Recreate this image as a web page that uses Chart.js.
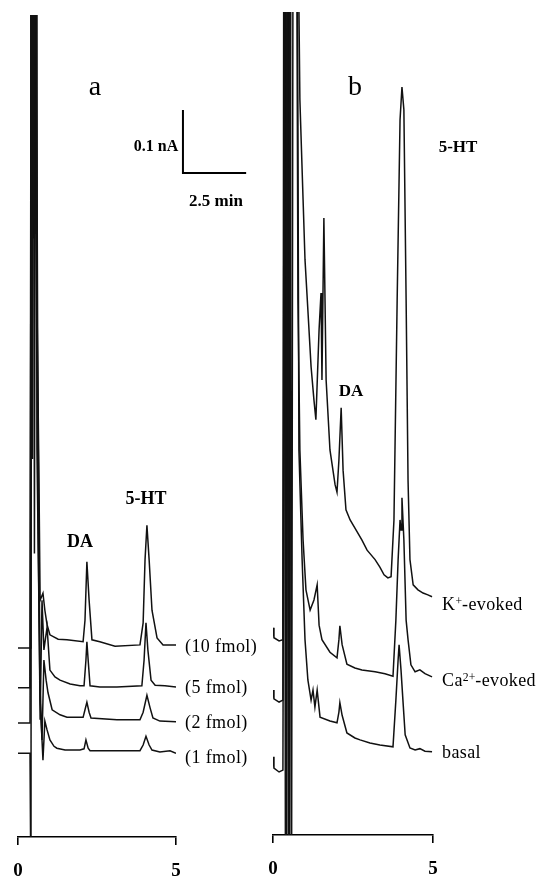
<!DOCTYPE html>
<html>
<head>
<meta charset="utf-8">
<script src="https://cdn.jsdelivr.net/npm/chart.js@4.4.1/dist/chart.umd.min.js"></script>
<style>
  html, body { margin: 0; padding: 0; background: #fff; }
  #wrap { position: relative; width: 547px; height: 878px; overflow: hidden; background: #fff; }
  .pane { position: absolute; top: 0; height: 878px; }
  #pa { left: 0; width: 265px; }
  #pb { left: 255px; width: 292px; }
  .lbl { position: absolute; font-family: "Liberation Serif", "DejaVu Serif", serif; color: #000; white-space: nowrap; line-height: 1; }
  .c { transform: translate(-50%, -50%); }
  .l { transform: translate(0, -50%); }
  .tr { font-size: 18px; letter-spacing: 0.4px; }
  sup { font-size: 65%; vertical-align: 0; position: relative; top: -0.45em; letter-spacing: 0; }
</style>
</head>
<body>
<div id="wrap">
  <div class="pane" id="pa"><canvas id="ca" width="265" height="878"></canvas></div>
  <div class="pane" id="pb"><canvas id="cb" width="292" height="878"></canvas></div>

  <div class="lbl c" style="left:95px;top:86px;font-size:28px;">a</div>
  <div class="lbl c" style="left:156px;top:146px;font-size:16px;font-weight:bold;">0.1 nA</div>
  <div class="lbl c" style="left:216px;top:200px;font-size:17px;font-weight:bold;">2.5 min</div>
  <div class="lbl c" style="left:80px;top:541px;font-size:18px;font-weight:bold;">DA</div>
  <div class="lbl c" style="left:146px;top:498px;font-size:18px;font-weight:bold;">5-HT</div>
  <div class="lbl l tr" style="left:185px;top:646px;">(10 fmol)</div>
  <div class="lbl l tr" style="left:185px;top:687px;">(5 fmol)</div>
  <div class="lbl l tr" style="left:185px;top:722px;">(2 fmol)</div>
  <div class="lbl l tr" style="left:185px;top:757px;">(1 fmol)</div>

  <div class="lbl c" style="left:355px;top:86px;font-size:28px;">b</div>
  <div class="lbl c" style="left:458px;top:146px;font-size:17px;font-weight:bold;">5-HT</div>
  <div class="lbl c" style="left:351px;top:390px;font-size:17px;font-weight:bold;">DA</div>
  <div class="lbl l tr" style="left:442px;top:604px;">K<sup>+</sup>-evoked</div>
  <div class="lbl l tr" style="left:442px;top:680px;">Ca<sup>2+</sup>-evoked</div>
  <div class="lbl l tr" style="left:442px;top:752px;">basal</div>
</div>

<script>
// ---------- Panel a: standards (time in min, current in nA, traces offset) ----------
const tA10 = [0,0.38,0.41,0.44,0.47,0.50,0.53,0.57,0.60,0.66,0.70,0.79,0.85,0.92,1.01,1.27,1.55,2.06,2.12,2.18,2.25,2.34,2.59,3.07,3.86,3.96,4.02,4.08,4.15,4.24,4.40,4.59,4.81,5.00];
const yA10 = [0.300,0.300,1.6,1.05,1.6,0.95,1.6,1.6,0.852,0.583,0.376,0.387,0.360,0.337,0.321,0.314,0.313,0.310,0.344,0.437,0.376,0.313,0.310,0.303,0.305,0.340,0.440,0.495,0.440,0.360,0.316,0.305,0.305,0.305];

const tA5 = [0,0.38,0.42,0.45,0.48,0.51,0.55,0.59,0.63,0.70,0.76,0.82,0.92,1.01,1.17,1.33,1.65,1.96,2.09,2.15,2.18,2.22,2.28,2.59,3.13,3.92,3.99,4.05,4.11,4.21,4.34,4.65,5.00];
const yA5 = [0.237,0.237,1.6,0.75,1.6,1.15,1.6,1.011,0.535,0.186,0.376,0.297,0.333,0.265,0.254,0.249,0.243,0.240,0.240,0.281,0.310,0.281,0.240,0.238,0.238,0.240,0.281,0.340,0.297,0.249,0.241,0.240,0.238];

const tA2 = [0,0.38,0.43,0.46,0.49,0.52,0.56,0.63,0.70,0.76,0.82,0.89,0.95,1.08,1.33,1.55,2.06,2.12,2.18,2.25,2.31,3.13,3.86,3.96,4.08,4.18,4.27,4.49,5.00];
const yA2 = [0.181,0.181,1.6,0.6,1.6,1.25,1.6,0.694,0.233,0.154,0.281,0.249,0.229,0.202,0.194,0.190,0.190,0.202,0.214,0.198,0.189,0.186,0.186,0.198,0.225,0.205,0.189,0.184,0.183];

const tA1 = [0,0.38,0.41,0.43,0.46,0.49,0.52,0.56,0.60,0.70,0.79,0.85,0.92,1.01,1.14,1.23,1.49,1.96,2.09,2.15,2.22,2.28,3.13,3.86,3.96,4.05,4.15,4.24,4.49,4.81,5.00];
const yA1 = [0.133,0.133,-0.1,1.6,1.3,1.6,0.45,1.6,0.614,0.217,0.122,0.184,0.170,0.154,0.144,0.141,0.138,0.138,0.140,0.154,0.141,0.137,0.137,0.137,0.146,0.160,0.146,0.138,0.135,0.137,0.133];

// ---------- Panel b: microdialysates ----------
const tBK = [0,0.03,0.19,0.31,0.34,0.39,0.44,0.48,0.53,0.58,0.63,0.75,0.84,0.94,1.00,1.09,1.19,1.28,1.34,1.44,1.50,1.53,1.56,1.59,1.66,1.78,1.94,2.00,2.06,2.13,2.19,2.28,2.41,2.63,2.78,2.94,3.19,3.34,3.47,3.59,3.69,3.78,3.88,3.97,4.03,4.09,4.16,4.22,4.28,4.38,4.53,4.69,4.84,4.97];
const yBK = [0.329,0.313,0.308,0.310,1.6,-0.1,1.6,-0.1,1.6,-0.1,1.6,1.6,1.167,1.008,0.913,0.833,0.743,0.690,0.659,0.802,0.860,0.722,0.849,0.979,0.722,0.611,0.556,0.544,0.595,0.678,0.579,0.516,0.500,0.481,0.468,0.452,0.437,0.425,0.413,0.408,0.410,0.500,0.849,1.135,1.187,1.151,0.849,0.563,0.437,0.397,0.389,0.384,0.381,0.378];

const tBCa = [0,0.03,0.19,0.31,0.36,0.41,0.45,0.50,0.55,0.59,0.73,0.78,0.84,0.94,1.03,1.16,1.28,1.38,1.44,1.53,1.78,2.00,2.06,2.09,2.16,2.31,2.56,2.78,3.19,3.50,3.75,3.84,3.91,3.97,4.00,4.03,4.09,4.16,4.22,4.31,4.44,4.59,4.75,4.97];
const yBCa = [0.230,0.216,0.211,0.214,1.6,-0.1,1.6,-0.1,1.6,1.6,1.6,0.849,0.611,0.468,0.389,0.357,0.373,0.397,0.333,0.310,0.290,0.281,0.310,0.332,0.302,0.271,0.265,0.262,0.259,0.256,0.252,0.341,0.437,0.500,0.484,0.535,0.468,0.341,0.310,0.270,0.259,0.262,0.256,0.251];

const tBBas = [0,0.03,0.19,0.31,0.38,0.42,0.47,0.52,0.56,0.61,0.75,0.81,0.91,1.00,1.09,1.19,1.25,1.31,1.38,1.47,1.78,2.00,2.06,2.09,2.16,2.31,2.56,2.72,3.03,3.34,3.75,3.84,3.91,3.94,4.00,4.06,4.13,4.28,4.44,4.59,4.75,4.97];
const yBBas = [0.124,0.106,0.100,0.103,1.6,-0.1,1.6,-0.1,1.6,1.6,1.6,0.611,0.437,0.310,0.246,0.214,0.230,0.203,0.230,0.187,0.181,0.178,0.195,0.210,0.190,0.162,0.154,0.151,0.146,0.143,0.140,0.214,0.278,0.302,0.262,0.214,0.159,0.138,0.135,0.137,0.133,0.132];

// axis ticks (min)
const xTicks = [0, 5];
// scale bar (min, nA)
const barT0 = 5.22, barV0 = 1.054, barDT = 2.0, barDV = 0.1;

function pts(t, y) { return t.map((x, i) => ({ x: x, y: y[i] })); }
function ds(t, y) {
  return { data: pts(t, y), borderColor: '#111', borderWidth: 1.5, pointRadius: 0, tension: 0, fill: false };
}

function makeOptions(padL, padR, padT, axisH, yMax) {
  return {
    responsive: false,
    animation: false,
    devicePixelRatio: 1,
    layout: { padding: { left: padL, right: padR, top: padT, bottom: 0 } },
    plugins: { legend: { display: false }, tooltip: { enabled: false } },
    scales: {
      x: {
        type: 'linear', min: 0, max: 5,
        afterFit: s => { s.height = axisH; },
        afterBuildTicks: s => { s.ticks = xTicks.map(v => ({ value: v })); },
        border: { display: true, color: '#000', width: 1.6 },
        grid: { drawOnChartArea: false, drawTicks: true, tickLength: 8, color: '#000', lineWidth: 1.6 },
        ticks: { color: '#000', padding: 9, maxRotation: 0, font: { family: 'Liberation Serif', size: 19, weight: 'bold', lineHeight: 1.8 } }
      },
      y: { type: 'linear', min: 0, max: yMax, display: false }
    }
  };
}

const scaleBarPlugin = {
  id: 'scaleBar',
  afterDraw(chart) {
    const xs = chart.scales.x, ys = chart.scales.y, ctx = chart.ctx;
    const x0 = xs.getPixelForValue(barT0), x1 = xs.getPixelForValue(barT0 + barDT);
    const y0 = ys.getPixelForValue(barV0), y1 = ys.getPixelForValue(barV0 + barDV);
    ctx.save();
    ctx.strokeStyle = '#000'; ctx.lineWidth = 2;
    ctx.beginPath(); ctx.moveTo(x0, y1); ctx.lineTo(x0, y0); ctx.lineTo(x1, y0); ctx.stroke();
    ctx.restore();
  }
};

new Chart(document.getElementById('ca'), {
  type: 'line',
  data: { datasets: [ds(tA10, yA10), ds(tA5, yA5), ds(tA2, yA2), ds(tA1, yA1)] },
  options: makeOptions(18, 89, 15, 41, 1.305),
  plugins: [scaleBarPlugin]
});

new Chart(document.getElementById('cb'), {
  type: 'line',
  data: { datasets: [ds(tBK, yBK), ds(tBCa, yBCa), ds(tBBas, yBBas)] },
  options: makeOptions(18, 114, 12, 43, 1.306)
});
</script>
</body>
</html>
